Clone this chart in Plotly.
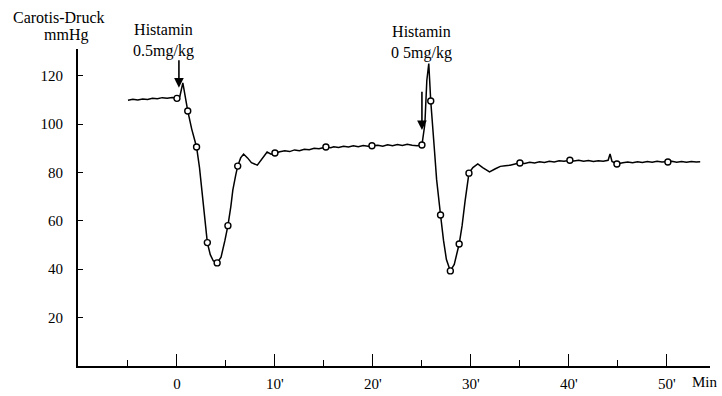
import plotly.graph_objects as go

# ---- data (time in min, carotid pressure in mmHg) ----
time_min = [-5.0, -4.5, -4.0, -3.5, -3.0, -2.5, -2.0, -1.5, -1.0, -0.5, 0.0, 0.3, 0.6, 0.8,
            1.1, 1.5, 2.0, 2.3, 2.6, 2.8, 3.1, 3.4, 3.7, 4.1, 4.5, 4.9, 5.2, 5.5, 5.7, 6.0,
            6.2, 6.5, 6.8, 7.2, 7.6, 8.2, 8.7, 9.2, 9.6, 10.0, 10.5, 11.0, 11.5, 12.0, 12.5,
            13.0, 13.5, 14.0, 14.5, 15.2, 15.7, 16.0, 16.5, 17.0, 17.5, 18.0, 18.5, 19.0,
            19.5, 19.9, 20.5, 21.0, 21.5, 22.0, 22.5, 23.0, 23.5, 24.0, 24.5, 25.0, 25.3,
            25.5, 25.7, 25.9, 26.1, 26.3, 26.5, 26.7, 26.9, 27.2, 27.5, 27.9, 28.3, 28.8,
            29.1, 29.4, 29.8, 30.2, 30.7, 31.2, 31.9, 32.5, 33.0, 33.5, 34.0, 34.9, 35.5,
            36.0, 36.5, 37.0, 37.5, 38.0, 38.5, 39.0, 39.5, 40.1, 40.5, 41.0, 41.5, 42.0,
            42.5, 43.0, 43.5, 44.0, 44.2, 44.4, 44.9, 45.5, 46.0, 46.5, 47.0, 47.5, 48.0,
            48.5, 49.0, 49.5, 50.1, 50.5, 51.0, 51.5, 52.0, 52.5, 53.0, 53.4]
pressure = [109.8, 110.2, 109.9, 110.3, 110.1, 110.6, 110.4, 110.9, 110.6, 111.0, 110.6, 111.5,
            117.0, 112.0, 105.4, 98.0, 90.5, 82.0, 70.0, 62.0, 51.0, 46.0, 43.5, 42.6, 45.0,
            52.0, 58.0, 66.0, 72.7, 79.0, 82.6, 86.0, 87.6, 86.0, 84.0, 83.0, 85.5, 88.4,
            87.5, 88.0, 88.5, 88.9, 88.6, 89.3, 89.0, 89.6, 89.4, 90.0, 89.8, 90.5, 90.2,
            90.6, 90.3, 90.8, 90.5, 91.0, 90.6, 91.1, 90.8, 91.0, 91.2, 90.8, 91.4, 91.0,
            91.5, 91.1, 91.6, 91.2, 91.0, 91.3, 100.0, 118.0, 125.0, 109.5, 100.0, 88.0,
            77.0, 68.0, 62.4, 52.0, 44.0, 39.3, 42.0, 50.4, 58.0, 68.0, 79.7, 82.0, 83.5,
            82.0, 80.2, 81.5, 82.5, 82.8, 83.0, 83.9, 83.7, 84.2, 83.9, 84.4, 84.1, 84.6,
            84.3, 84.8, 84.6, 85.0, 84.7, 85.0, 84.6, 84.9, 84.5, 84.8, 84.6, 85.0, 87.6,
            84.5, 83.5, 84.0, 84.3, 84.0, 84.4, 84.1, 84.5, 84.2, 84.6, 84.3, 84.3, 84.6,
            84.2, 84.5, 84.2, 84.5, 84.3, 84.4]

marker_time = [0.0, 1.1, 2.0, 3.1, 4.1, 5.2, 6.2, 10.0, 15.2, 19.9, 25.0, 25.9, 26.9, 27.9,
               28.8, 29.8, 35.0, 40.1, 44.9, 50.1]
marker_pressure = [110.6, 105.4, 90.5, 51.0, 42.6, 58.0, 82.6, 88.0, 90.5, 91.0, 91.3, 109.5,
                   62.4, 39.3, 50.4, 79.7, 83.9, 85.0, 83.5, 84.3]

y_ticks = [20, 40, 60, 80, 100, 120]
x_ticks = [0, 10, 20, 30, 40, 50]
x_ticktext = ["0", "10'", "20'", "30'", "40'", "50'"]

injection_time = [0.2, 25.0]
injection_label = ["Histamin<br>0.5mg/kg", "Histamin<br>0 5mg/kg"]

FONT = "Liberation Serif, Times New Roman, serif"

fig = go.Figure()
fig.add_trace(go.Scatter(x=time_min, y=pressure, mode="lines",
                         line=dict(color="black", width=1.5), showlegend=False,
                         hoverinfo="skip"))
fig.add_trace(go.Scatter(x=marker_time, y=marker_pressure, mode="markers",
                         marker=dict(symbol="circle", size=6, color="white",
                                     line=dict(color="black", width=1.4)),
                         showlegend=False))

# arrows
arrow_head = [115, 97.5]
arrow_tail = [127, 114]
for t, h, tl in zip(injection_time, arrow_head, arrow_tail):
    fig.add_annotation(x=t, y=h, ax=t, ay=tl, xref="x", yref="y", axref="x", ayref="y",
                       text="", showarrow=True, arrowhead=2, arrowsize=1.2,
                       arrowwidth=1.6, arrowcolor="black")

# text labels in paper coordinates (outside plotting range)
label_pos = [(0.1345, 1.028), (0.5443, 1.0205)]
for (lx, ly), txt in zip(label_pos, injection_label):
    fig.add_annotation(x=lx, y=ly, xref="paper", yref="paper", text=txt, showarrow=False,
                       font=dict(family=FONT, size=16, color="black"),
                       align="center", xanchor="center", yanchor="middle")

fig.add_annotation(x=-0.030, y=1.098, xref="paper", yref="paper", text="Carotis-Druck",
                   showarrow=False, font=dict(family=FONT, size=16, color="black"),
                   xanchor="center", yanchor="middle")
fig.add_annotation(x=-0.019, y=1.044, xref="paper", yref="paper", text="mmHg",
                   showarrow=False, font=dict(family=FONT, size=16, color="black"),
                   xanchor="center", yanchor="middle")
fig.add_annotation(x=1.016, y=-0.05, xref="paper", yref="paper", text="Min",
                   showarrow=False, font=dict(family=FONT, size=15, color="black"),
                   xanchor="right", yanchor="middle")

fig.update_layout(
    width=722, height=396,
    margin=dict(l=78, r=12, t=49, b=30),
    paper_bgcolor="white", plot_bgcolor="white",
    font=dict(family=FONT, size=15, color="black"),
    xaxis=dict(range=[-10.1, 54.4], showgrid=False, zeroline=False, automargin=False,
               showline=True, linecolor="black", linewidth=1.6,
               tickmode="array", tickvals=x_ticks, ticktext=x_ticktext,
               ticks="inside", ticklen=12, tickwidth=1.3, tickcolor="black",
               ticklabelstandoff=3,
               minor=dict(ticks="inside", ticklen=6, tickwidth=1.2, tickcolor="black",
                          tickmode="array", tickvals=[-5, 5, 15, 25, 35, 45])),
    yaxis=dict(range=[0, 131], showgrid=False, zeroline=False, automargin=False,
               showline=True, linecolor="black", linewidth=2,
               tickmode="array", tickvals=y_ticks,
               ticks="inside", ticklen=5, tickwidth=1.2, tickcolor="black",
               ticklabelstandoff=10),
)

fig.write_html("out.html")
